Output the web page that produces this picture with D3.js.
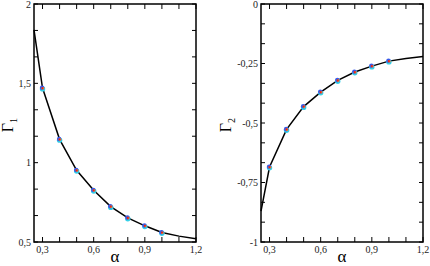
<!DOCTYPE html>
<html>
<head>
<meta charset="utf-8">
<script src="https://cdn.jsdelivr.net/npm/d3@7"></script>
<style>
  body { margin: 0; background: #fff; }
</style>
</head>
<body>
<svg width="430" height="266"></svg>
<script>
// line data (alpha, gamma)
var curveAlpha = [0.25, 0.3, 0.4, 0.5, 0.6, 0.7, 0.8, 0.9, 1.0, 1.1, 1.2];
var gamma1Curve = [1.837, 1.47, 1.147, 0.952, 0.826, 0.723, 0.652, 0.602, 0.56, 0.537, 0.52];
var gamma2Curve = [-0.87, -0.685, -0.527, -0.431, -0.370, -0.321, -0.286, -0.261, -0.240, -0.229, -0.221];

// symbols
var pointAlpha = [0.3, 0.4, 0.5, 0.6, 0.7, 0.8, 0.9, 1.0];
var gamma1Points = [1.47, 1.147, 0.952, 0.826, 0.723, 0.652, 0.602, 0.56];
var gamma2Points = [-0.685, -0.527, -0.431, -0.370, -0.321, -0.286, -0.261, -0.240];

var xTicks = [0.3, 0.6, 0.9, 1.2];
var xMinor = [0.4, 0.5, 0.7, 0.8, 1.0, 1.1];
var y1Ticks = [0.5, 1, 1.5, 2];
var y2Ticks = [-1, -0.75, -0.5, -0.25, 0];

var FONT = "'Times New Roman', Times, serif";
var fmt = function(d) { return String(d).replace('.', ','); };

var svg = d3.select('svg').attr('font-family', FONT);

function panel(opt) {
    var x = d3.scaleLinear().domain([0.25, 1.2]).range([opt.left, opt.right]);
    var y = d3.scaleLinear().domain(opt.ydomain).range([242, 4]);
    var g = svg.append('g');

    var yMinor = [];
    for (var i = 0; i < opt.yticks.length - 1; i++) {
        var step = (opt.yticks[i + 1] - opt.yticks[i]) / 3;
        yMinor.push(opt.yticks[i] + step, opt.yticks[i] + 2 * step);
    }

    // tick marks on all four sides, pointing in
    xTicks.concat(xMinor).forEach(function(v) {
        g.append('line').attr('x1', x(v)).attr('x2', x(v)).attr('y1', 242).attr('y2', 237)
            .attr('stroke', '#000').attr('stroke-width', 1);
        g.append('line').attr('x1', x(v)).attr('x2', x(v)).attr('y1', 4).attr('y2', 9)
            .attr('stroke', '#000').attr('stroke-width', 1);
    });
    opt.yticks.concat(yMinor).forEach(function(v) {
        g.append('line').attr('x1', opt.left).attr('x2', opt.left + 4).attr('y1', y(v)).attr('y2', y(v))
            .attr('stroke', '#000').attr('stroke-width', 1);
        g.append('line').attr('x1', opt.right).attr('x2', opt.right - 4).attr('y1', y(v)).attr('y2', y(v))
            .attr('stroke', '#000').attr('stroke-width', 1);
    });

    g.append('rect')
        .attr('x', opt.left).attr('y', 4)
        .attr('width', opt.right - opt.left).attr('height', 238)
        .attr('fill', 'none').attr('stroke', '#000').attr('stroke-width', 1.5);

    // tick labels
    g.selectAll('text.xt').data(xTicks).enter().append('text')
        .attr('x', d => x(d)).attr('y', 253)
        .attr('text-anchor', 'middle').attr('font-size', 10).attr('fill', '#222')
        .text(fmt);
    g.selectAll('text.yt').data(opt.yticks).enter().append('text')
        .attr('x', opt.left - 3).attr('y', d => y(d) + 3.5)
        .attr('text-anchor', 'end').attr('font-size', 10).attr('fill', '#222')
        .text(fmt);

    // axis titles
    g.append('text')
        .attr('x', (opt.left + opt.right) / 2).attr('y', 262)
        .attr('text-anchor', 'middle').attr('font-size', 17)
        .text('α');
    var t = g.append('text')
        .attr('transform', 'translate(' + (opt.left - opt.labelOffset) + ',' + 125 + ') rotate(-90)')
        .attr('text-anchor', 'middle').attr('font-size', 16);
    t.append('tspan').text('Γ');
    t.append('tspan').attr('font-size', 10).attr('dy', 4).text(opt.sub);

    var line = d3.line().x(d => x(d[0])).y(d => y(d[1]));
    g.append('path')
        .datum(d3.zip(curveAlpha, opt.curve))
        .attr('d', line)
        .attr('fill', 'none').attr('stroke', '#000').attr('stroke-width', 1.5);

    // overlapping symbols
    var pts = d3.zip(pointAlpha, opt.points);
    var layers = [
        {dx: 0, dy: 0.8, r: 2.7, c: '#35d0e8'},
        {dx: -0.4, dy: -0.3, r: 2.3, c: '#3a5ae8'},
        {dx: 0.4, dy: 0.2, r: 1.3, c: '#f0a020'},
        {dx: 0, dy: 0, r: 1.1, c: '#e02020'}
    ];
    layers.forEach(function(l) {
        g.selectAll(null).data(pts).enter().append('circle')
            .attr('cx', d => x(d[0]) + l.dx).attr('cy', d => y(d[1]) + l.dy)
            .attr('r', l.r).attr('fill', l.c);
    });
}

panel({left: 34, right: 196, ydomain: [0.5, 2], yticks: y1Ticks, sub: '1', labelOffset: 21,
       curve: gamma1Curve, points: gamma1Points});
panel({left: 261, right: 423, ydomain: [-1, 0], yticks: y2Ticks, sub: '2', labelOffset: 30,
       curve: gamma2Curve, points: gamma2Points});
</script>
</body>
</html>
